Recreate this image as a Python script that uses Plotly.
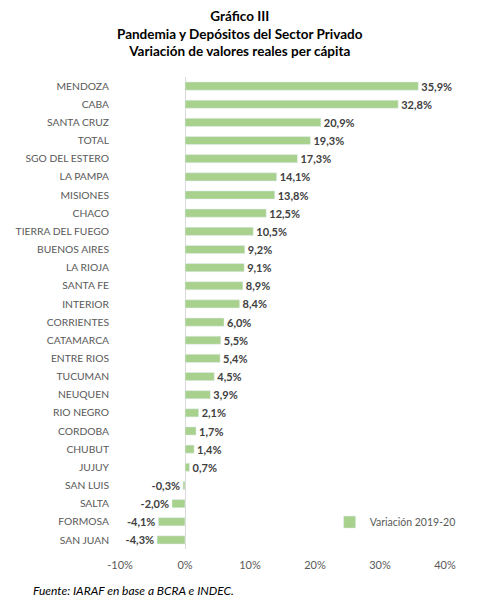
import plotly.graph_objects as go

CATEGORIES = [
    "MENDOZA", "CABA", "SANTA CRUZ", "TOTAL", "SGO DEL ESTERO", "LA PAMPA",
    "MISIONES", "CHACO", "TIERRA DEL FUEGO", "BUENOS AIRES", "LA RIOJA",
    "SANTA FE", "INTERIOR", "CORRIENTES", "CATAMARCA", "ENTRE RIOS",
    "TUCUMAN", "NEUQUEN", "RIO NEGRO", "CORDOBA", "CHUBUT", "JUJUY",
    "SAN LUIS", "SALTA", "FORMOSA", "SAN JUAN",
]
VARIATION = [
    35.9, 32.8, 20.9, 19.3, 17.3, 14.1, 13.8, 12.5, 10.5, 9.2, 9.1, 8.9,
    8.4, 6.0, 5.5, 5.4, 4.5, 3.9, 2.1, 1.7, 1.4, 0.7, -0.3, -2.0, -4.1, -4.3,
]
TICK_VALUES = [-10, 0, 10, 20, 30, 40]
TICK_LABELS = ["-10%", "0%", "10%", "20%", "30%", "40%"]

FONT = "Lato, 'Open Sans', Arial, sans-serif"
GREEN = "#A9D18E"

labels = [f"{v:.1f}%".replace(".", ",") for v in VARIATION]

fig = go.Figure()
fig.add_trace(
    go.Bar(
        x=VARIATION,
        y=CATEGORIES,
        orientation="h",
        name="Variación 2019-20",
        marker={"color": GREEN},
        text=labels,
        textposition="outside",
        constraintext="none",
        cliponaxis=False,
        textfont={"family": FONT, "size": 11, "color": "#404040", "weight": "bold"},
    )
)

# the page body adds an 8px offset, so margins are pulled in by 8px
fig.update_layout(
    width=495,
    height=609,
    paper_bgcolor="white",
    plot_bgcolor="white",
    margin={"l": 112, "r": 58, "t": 69, "b": 68},
    bargap=0.55,
    font={"family": FONT, "size": 11, "color": "#595959"},
    showlegend=True,
    legend={
        "x": 0.645,
        "y": 0.057,
        "xanchor": "left",
        "yanchor": "middle",
        "itemwidth": 30,
        "bgcolor": "rgba(0,0,0,0)",
        "font": {"family": FONT, "size": 10.5, "color": "#595959"},
    },
    annotations=[
        {
            "text": "<b>Gráfico III</b><br><b>Pandemia y Depósitos del Sector Privado</b>"
                    "<br><b>Variación de valores reales per cápita</b>",
            "xref": "paper", "yref": "paper",
            "x": 0.5, "y": 1.0, "yshift": 71, "xshift": -43,
            "xanchor": "center", "yanchor": "top",
            "showarrow": False,
            "font": {"family": FONT, "size": 13.5, "color": "#000000"},
        },
        {
            "text": "<i>Fuente: IARAF en base a BCRA e INDEC.</i>",
            "xref": "paper", "yref": "paper",
            "x": 0, "y": 0, "xshift": -89, "yshift": -41,
            "xanchor": "left", "yanchor": "middle",
            "showarrow": False,
            "font": {"family": FONT, "size": 12, "color": "#000000"},
        },
    ],
)

fig.update_xaxes(
    range=[-10, 40],
    tickvals=TICK_VALUES,
    ticktext=TICK_LABELS,
    showgrid=False,
    zeroline=True,
    zerolinecolor="#D9D9D9",
    zerolinewidth=1,
    showline=False,
    automargin=False,
    ticklabelstandoff=8,
    tickfont={"family": FONT, "size": 11, "color": "#595959"},
    fixedrange=True,
)
fig.update_yaxes(
    autorange="reversed",
    showgrid=False,
    showline=False,
    ticks="",
    automargin=False,
    ticklabelstandoff=10,
    tickfont={"family": FONT, "size": 10.3, "color": "#595959"},
    fixedrange=True,
)

fig.write_html("out.html")
